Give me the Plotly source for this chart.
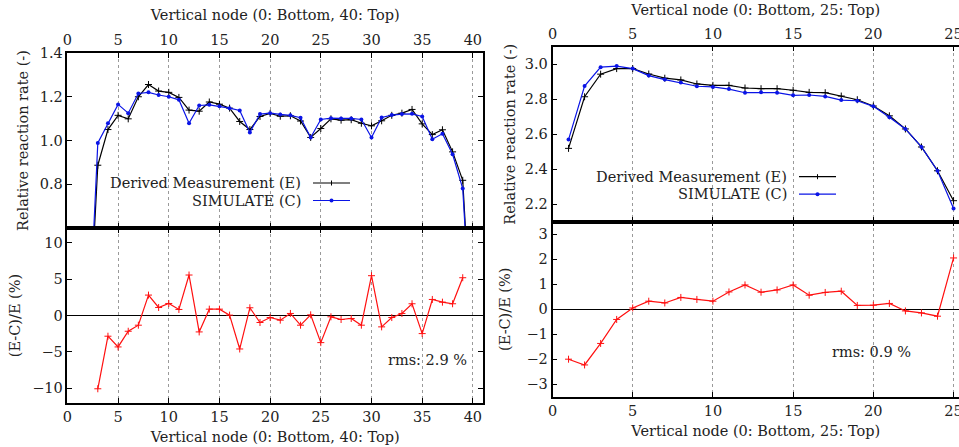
import plotly.graph_objects as go

FONT = "DejaVu Serif"
W, H = 959, 447

# 40-node core: relative reaction rate per vertical node
NODES_40 = list(range(0, 41))
MEASURED_40 = [0.0, 0.0, 0.0,
               0.887, 1.050, 1.115, 1.099, 1.200, 1.256, 1.226, 1.220, 1.197, 1.139,
               1.134, 1.176, 1.166, 1.148, 1.087, 1.050, 1.110, 1.124, 1.111, 1.113,
               1.089, 1.014, 1.055, 1.099, 1.093, 1.095, 1.079, 1.067, 1.090, 1.115,
               1.125, 1.142, 1.076, 1.027, 1.049, 0.948, 0.818,
               0.0]
SIMULATED_40 = [0.0, 0.0, 0.0,
                0.989, 1.079, 1.165, 1.125, 1.215, 1.220, 1.208, 1.200, 1.186, 1.079,
                1.160, 1.163, 1.156, 1.148, 1.137, 1.037, 1.121, 1.125, 1.119, 1.115,
                1.104, 1.014, 1.096, 1.102, 1.101, 1.101, 1.096, 1.014, 1.105, 1.116,
                1.121, 1.122, 1.110, 1.006, 1.031, 0.937, 0.780,
                0.0]
ERR_NODES_40 = list(range(3, 40))
ERROR_40 = [-10.05, -2.84, -4.31, -2.16, -1.33, 2.80, 1.10, 1.65, 0.83, 5.55,
            -2.25, 0.87, 0.87, 0.05, -4.59, 1.06, -0.96, -0.28, -0.64, 0.28,
            -1.33, 0.09, -3.72, -0.18, -0.55, -0.41, -1.33, 5.46, -1.56, -0.28,
            0.28, 1.61, -2.48, 2.20, 1.83, 1.61, 5.18]
RMS_40 = "rms: 2.9 %"

# 25-node core
NODES_25 = list(range(1, 26))
MEASURED_25 = [2.519, 2.814, 2.943, 2.975, 2.975, 2.944, 2.920, 2.910, 2.887, 2.879,
               2.879, 2.864, 2.860, 2.860, 2.851, 2.839, 2.837, 2.818, 2.797, 2.761,
               2.705, 2.630, 2.527, 2.391, 2.220]
SIMULATED_25 = [2.569, 2.875, 2.983, 2.989, 2.975, 2.935, 2.912, 2.895, 2.874, 2.870,
                2.858, 2.837, 2.839, 2.837, 2.822, 2.824, 2.816, 2.795, 2.791, 2.759,
                2.697, 2.630, 2.527, 2.391, 2.176]
ERROR_25 = [-2.00, -2.23, -1.37, -0.41, 0.05, 0.32, 0.25, 0.47, 0.39, 0.32,
            0.69, 0.97, 0.68, 0.77, 0.97, 0.56, 0.67, 0.72, 0.15, 0.16,
            0.23, -0.07, -0.15, -0.28, 2.05]
RMS_25 = "rms: 0.9 %"

LABEL_E = "Derived Measurement (E)"
LABEL_C = "SIMULATE (C)"
RATE_TITLE = "Relative reaction rate (-)"
ERR_TITLE = "(E-C)/E (%)"

TEXT = dict(family=FONT, size=14.5, color="#222")
AXIS = dict(showline=True, linecolor="black", linewidth=1.5, mirror="ticks",
            ticks="inside", ticklen=5, tickcolor="black", tickfont=TEXT,
            showgrid=False, zeroline=False, automargin=False)
XGRID = dict(showgrid=True, gridcolor="#9a9a9a", griddash="dot", gridwidth=1,
             tick0=0, dtick=5)


def px(x, y):
    return x / W, 1 - y / H


def add_series(fig, xa, ya, nodes, meas, sim):
    fig.add_trace(go.Scatter(
        x=nodes, y=meas, mode="lines+markers", xaxis=xa, yaxis=ya,
        line=dict(color="black", width=1.2),
        marker=dict(symbol="cross-thin", size=5, line=dict(color="black", width=1))))
    fig.add_trace(go.Scatter(
        x=nodes, y=sim, mode="lines+markers", xaxis=xa, yaxis=ya,
        line=dict(color="#0a14e6", width=1.2),
        marker=dict(symbol="circle", size=4, color="#0a14e6")))


def add_error(fig, xa, ya, nodes, err):
    fig.add_trace(go.Scatter(
        x=nodes, y=err, mode="lines+markers", xaxis=xa, yaxis=ya,
        line=dict(color="#ff1010", width=1.2),
        marker=dict(symbol="cross-thin", size=5, line=dict(color="#ff1010", width=1))))


def add_key(fig, text_right, y_top, box):
    # gnuplot-style key: text right-aligned, line sample on the right
    x0, y0 = px(box[0], box[1])
    x1, y1 = px(box[2], box[3])
    fig.add_shape(type="rect", xref="paper", yref="paper", x0=x0, x1=x1, y0=y1, y1=y0,
                  fillcolor="white", line_width=0, layer="between")
    for i, (label, color) in enumerate([(LABEL_E, "black"), (LABEL_C, "#0a14e6")]):
        y = y_top + 17.5 * i
        tx, ty = px(text_right, y)
        fig.add_annotation(x=tx, y=ty, xref="paper", yref="paper", text=label,
                           showarrow=False, xanchor="right", yanchor="middle", font=TEXT)
        sx0, sy = px(text_right + 10, y)
        sx1, _ = px(text_right + 47, y)
        fig.add_shape(type="line", xref="paper", yref="paper", x0=sx0, x1=sx1, y0=sy, y1=sy,
                      line=dict(color=color, width=1.2))
        cx = text_right + 28.5
        if i == 0:
            a, b = px(cx, y - 2.5)
            _, d = px(cx, y + 2.5)
            fig.add_shape(type="line", xref="paper", yref="paper", x0=a, x1=a,
                          y0=b, y1=d, line=dict(color=color, width=1))
        else:
            a, b = px(cx - 2, y - 2)
            c, d = px(cx + 2, y + 2)
            fig.add_shape(type="circle", xref="paper", yref="paper", x0=a, x1=c, y0=d, y1=b,
                          fillcolor=color, line_width=0)


def main():
    fig = go.Figure()
    add_series(fig, "x", "y", NODES_40, MEASURED_40, SIMULATED_40)
    add_error(fig, "x2", "y2", ERR_NODES_40, ERROR_40)
    add_series(fig, "x3", "y3", NODES_25, MEASURED_25, SIMULATED_25)
    add_error(fig, "x4", "y4", NODES_25, ERROR_25)

    left = [67.4 / W, 483 / W]
    right = [552.5 / W, 1.0]
    title40 = "Vertical node (0: Bottom, 40: Top)"
    title25 = "Vertical node (0: Bottom, 25: Top)"

    fig.update_layout(
        width=W, height=H, showlegend=False, template="none",
        paper_bgcolor="white", plot_bgcolor="white",
        margin=dict(l=0, r=0, t=0, b=0, autoexpand=False),
        font=TEXT,
        xaxis=dict(AXIS, **XGRID, domain=left, range=[0, 41], side="top", anchor="y",
                   title=dict(text=title40, font=TEXT, standoff=8)),
        yaxis=dict(AXIS, domain=[1 - 228 / H, 1 - 53 / H], range=[0.6, 1.4], anchor="x",
                   tickvals=[0.8, 1.0, 1.2, 1.4], tickformat=".1f",
                   title=dict(text=RATE_TITLE, font=TEXT, standoff=8)),
        xaxis2=dict(AXIS, **XGRID, domain=left, range=[0, 41], anchor="y2",
                    title=dict(text=title40, font=TEXT, standoff=8)),
        yaxis2=dict(AXIS, domain=[1 - 403 / H, 1 - 228 / H], range=[-12, 12], anchor="x2",
                    tickvals=[-10, -5, 0, 5, 10], zeroline=True,
                    zerolinecolor="black", zerolinewidth=1,
                    title=dict(text=ERR_TITLE, font=TEXT, standoff=8)),
        xaxis3=dict(AXIS, **XGRID, domain=right, range=[0, 25.34], side="top", anchor="y3",
                    ticklabeloverflow="allow",
                    title=dict(text=title25, font=TEXT, standoff=7)),
        yaxis3=dict(AXIS, domain=[1 - 221.7 / H, 1 - 46.7 / H], range=[2.1, 3.1], anchor="x3",
                    mirror=False, tickvals=[2.2, 2.4, 2.6, 2.8, 3.0], tickformat=".1f",
                    title=dict(text=RATE_TITLE, font=TEXT, standoff=6)),
        xaxis4=dict(AXIS, **XGRID, domain=right, range=[0, 25.34], anchor="y4",
                    ticklabeloverflow="allow",
                    title=dict(text=title25, font=TEXT, standoff=8)),
        yaxis4=dict(AXIS, domain=[1 - 396.7 / H, 1 - 221.7 / H], range=[-3.5, 3.5], anchor="x4",
                    mirror=False, tickvals=[-3, -2, -1, 0, 1, 2, 3], zeroline=True,
                    zerolinecolor="black", zerolinewidth=1,
                    title=dict(text=ERR_TITLE, font=TEXT, standoff=12)),
    )

    add_key(fig, 303, 183, (112, 167, 357, 210))
    add_key(fig, 789, 176.7, (590, 162, 845, 205))

    fig.add_annotation(x=39.6, y=-6.15, xref="x2", yref="y2", text=RMS_40, showarrow=False,
                       xanchor="right", yanchor="middle", font=TEXT)
    fig.add_annotation(x=22.5, y=-1.71, xref="x4", yref="y4", text=RMS_25, showarrow=False,
                       xanchor="right", yanchor="middle", font=TEXT)

    fig.write_html("out.html", config={"displayModeBar": False},
                   post_script="document.body.style.margin = '0';")


if __name__ == "__main__":
    main()
